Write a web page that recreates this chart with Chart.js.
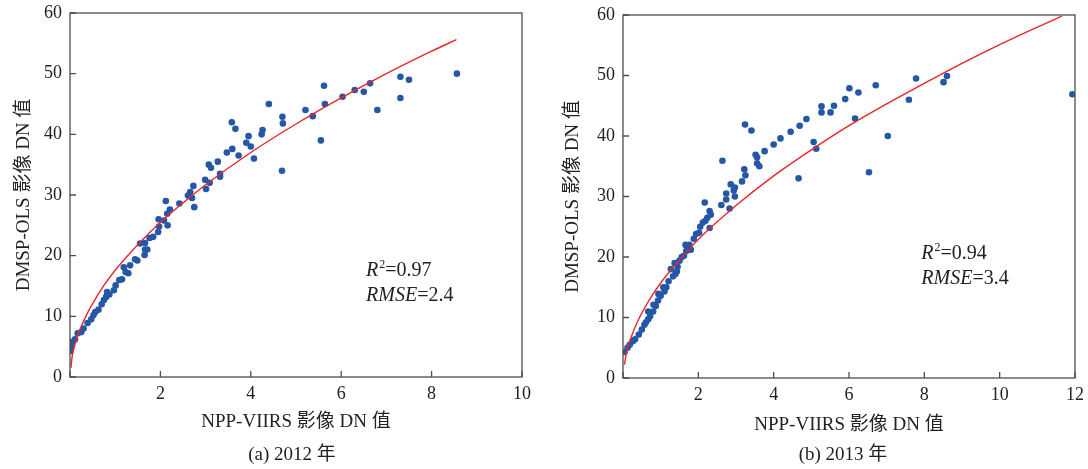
<!DOCTYPE html>
<html>
<head>
<meta charset="utf-8">
<script src="https://cdn.jsdelivr.net/npm/chart.js@4.4.1/dist/chart.umd.min.js"></script>
<style>
  body { margin: 0; background: #fff; width: 1088px; height: 469px; position: relative; overflow: hidden; }
  canvas { position: absolute; top: 0; }
  #chartA { left: 0; }
  #chartB { left: 544px; }
  .caption {
    position: absolute; top: 438px; width: 200px; text-align: center;
    font-family: "Liberation Serif", "Noto Sans CJK SC", serif; font-size: 19px; color: #222;
  }
</style>
</head>
<body>
<canvas id="chartA" width="544" height="440"></canvas>
<canvas id="chartB" width="544" height="440"></canvas>
<div class="caption" style="left:192px">(a) 2012 年</div>
<div class="caption" style="left:743px">(b) 2013 年</div>
<script>
// NPP-VIIRS vs DMSP-OLS DN values

// (a) 2012
const viirs2012 = [8.56, 7.31, 7.50, 7.31, 6.64, 6.50, 6.30, 6.80, 6.03, 5.62, 5.64, 5.55, 5.21, 5.37,
  4.70, 4.71, 4.69, 4.40, 4.26, 4.24, 3.95, 3.90, 4.00, 4.07, 3.58, 3.66, 3.59, 3.47, 3.73, 3.27,
  3.07, 3.12, 3.32, 3.32, 2.99, 3.09, 3.01, 2.73, 2.66, 2.61, 2.70, 2.75, 2.42, 2.12, 2.21, 2.15,
  2.08, 2.16, 1.96, 1.97, 1.95, 1.84, 1.76, 1.55, 1.66, 1.71, 1.66, 1.65, 1.49, 1.44, 1.33, 1.19,
  1.23, 1.29, 1.15, 1.09, 1.01, 0.97, 0.87, 0.82, 0.80, 0.75, 0.70, 0.63, 0.56, 0.52, 0.47, 0.39,
  0.30, 0.25, 0.17, 0.11, 0.06, 0.03, 0.01];
const dmsp2012 = [50.0, 49.5, 49.0, 46.0, 48.4, 47.0, 47.3, 44.0, 46.2, 48.0, 45.0, 39.0, 44.0, 43.0,
  42.9, 41.8, 34.0, 45.0, 40.7, 40.0, 39.7, 38.6, 38.0, 36.0, 42.0, 40.9, 37.6, 37.0, 36.5, 35.5,
  35.0, 34.5, 33.5, 33.0, 32.5, 32.0, 31.0, 31.5, 30.5, 29.9, 29.5, 28.0, 28.6, 29.0, 27.6, 26.9,
  25.8, 25.0, 26.0, 24.8, 23.9, 23.1, 22.9, 22.0, 22.1, 21.0, 21.0, 20.1, 19.2, 19.4, 18.4, 18.1,
  17.3, 17.1, 16.1, 16.0, 15.1, 14.3, 13.6, 14.0, 13.2, 12.7, 12.0, 11.1, 10.7, 10.2, 9.5, 8.9,
  8.0, 7.4, 7.2, 6.2, 5.8, 5.0, 4.3];
const fitX2012 = [0.02, 0.05, 0.1, 0.2, 0.35, 0.5, 0.75, 1, 1.5, 2, 2.5, 3, 4, 5, 6, 7, 8, 8.55];
const fitY2012 = [1.5, 3.5, 5.1, 7.4, 10.0, 12.1, 15.1, 17.6, 21.8, 25.5, 28.7, 31.7, 37.0, 41.7, 46.0, 50.0, 53.7, 55.6];

// (b) 2013
const viirs2013 = [11.93, 8.60, 8.51, 7.78, 7.59, 7.03, 6.71, 6.53, 6.25, 6.01, 6.16, 5.90, 5.60, 5.51,
  5.27, 5.27, 5.06, 5.13, 4.87, 4.69, 4.66, 4.45, 4.18, 4.00, 3.76, 3.52, 3.56, 3.56, 3.62, 3.41,
  3.24, 2.64, 3.22, 3.25, 3.16, 2.86, 2.97, 2.94, 2.74, 2.97, 2.74, 2.61, 2.83, 2.17, 2.30, 2.33,
  2.24, 2.19, 2.12, 2.30, 2.05, 2.02, 1.94, 1.88, 1.76, 1.66, 1.80, 1.68, 1.62, 1.56, 1.50, 1.37,
  1.27, 1.45, 1.43, 1.39, 1.33, 1.21, 1.15, 1.07, 1.10, 1.00, 0.94, 0.93, 0.87, 0.81, 0.67, 0.80,
  0.72, 0.67, 0.61, 0.57, 0.50, 0.42, 0.32, 0.27, 0.18, 0.12, 0.04];
const dmsp2013 = [46.9, 49.9, 48.9, 49.5, 46.0, 40.0, 48.4, 34.0, 47.2, 47.9, 42.9, 46.1, 45.0, 43.9,
  44.9, 43.9, 39.0, 37.9, 42.8, 41.7, 33.0, 40.7, 39.6, 38.6, 37.5, 36.9, 36.5, 35.5, 35.0, 40.9,
  41.9, 35.9, 34.5, 33.5, 32.5, 32.0, 31.5, 31.0, 30.5, 30.0, 29.5, 28.6, 28.0, 29.0, 27.6, 27.0,
  26.5, 26.0, 25.7, 24.8, 25.0, 24.0, 23.8, 23.0, 22.0, 22.0, 21.2, 21.0, 20.2, 20.0, 19.4, 19.0,
  18.0, 18.4, 17.6, 17.2, 16.8, 16.0, 15.0, 15.0, 14.3, 13.6, 13.9, 12.8, 11.9, 12.1, 11.0, 11.0,
  10.2, 9.7, 9.2, 8.8, 8.0, 7.2, 6.4, 6.1, 5.5, 5.0, 4.3];
const fitX2013 = [0.04, 0.1, 0.2, 0.4, 0.7, 1, 1.5, 2, 3, 4, 5, 6, 7, 8, 9, 10, 11, 11.65];
const fitY2013 = [2.2, 4.5, 6.5, 9.5, 12.9, 15.7, 19.5, 22.9, 28.5, 33.4, 37.7, 41.7, 45.3, 48.7, 52.0, 55.1, 58.0, 59.8];

const yTicks = [0, 10, 20, 30, 40, 50, 60];
const xTitle = 'NPP-VIIRS 影像 DN 值';
const yTitle = 'DMSP-OLS 影像 DN 值';

const FONT = '"Liberation Serif", "Noto Sans CJK SC", serif';
const INK = '#222';

// frame, inward tick marks and the R²/RMSE note
const framePlugin = {
  id: 'frame',
  afterDraw(chart, args, opts) {
    const { ctx, chartArea: a, scales } = chart;
    ctx.save();
    ctx.strokeStyle = '#4d4d4d';
    ctx.lineWidth = 1.3;
    ctx.strokeRect(a.left, a.top, a.right - a.left, a.bottom - a.top);
    ctx.beginPath();
    scales.x.ticks.forEach(t => {
      const px = scales.x.getPixelForValue(t.value);
      ctx.moveTo(px, a.bottom);
      ctx.lineTo(px, a.bottom - 6);
    });
    scales.y.ticks.forEach(t => {
      const py = scales.y.getPixelForValue(t.value);
      ctx.moveTo(a.left, py);
      ctx.lineTo(a.left + 6, py);
    });
    ctx.stroke();

    // stats note
    const x0 = scales.x.getPixelForValue(opts.at[0]);
    const y1 = scales.y.getPixelForValue(opts.at[1]);
    const y2 = y1 + 25;
    ctx.fillStyle = INK;
    ctx.textBaseline = 'alphabetic';
    let x = x0;
    ctx.font = 'italic 20px ' + FONT;
    ctx.fillText('R', x, y1); x += ctx.measureText('R').width + 1;
    ctx.font = '12px ' + FONT;
    ctx.fillText('2', x, y1 - 8); x += ctx.measureText('2').width;
    ctx.font = '20px ' + FONT;
    ctx.fillText('=' + opts.r2, x, y1);
    x = x0;
    ctx.font = 'italic 20px ' + FONT;
    ctx.fillText('RMSE', x, y2); x += ctx.measureText('RMSE').width;
    ctx.font = '20px ' + FONT;
    ctx.fillText('=' + opts.rmse, x, y2);
    ctx.restore();
  }
};

function makeChart(id, xs, ys, fx, fy, xMax, area, note) {
  const pts = xs.map((v, i) => ({ x: v, y: ys[i] }));
  const fit = fx.map((v, i) => ({ x: v, y: fy[i] }));
  const H = 440;
  return new Chart(document.getElementById(id), {
    type: 'scatter',
    data: {
      datasets: [
        {
          type: 'line',
          data: fit,
          borderColor: '#e8262a',
          borderWidth: 1.4,
          pointRadius: 0,
          fill: false,
          cubicInterpolationMode: 'monotone',
          order: 0
        },
        {
          data: pts,
          backgroundColor: '#2557a7',
          borderWidth: 0,
          pointRadius: 3.3,
          order: 1
        }
      ]
    },
    options: {
      responsive: false,
      animation: false,
      devicePixelRatio: 1,
      layout: { padding: { top: area.top, right: area.right, left: 0, bottom: 0 } },
      plugins: {
        legend: { display: false },
        tooltip: { enabled: false },
        frame: note
      },
      scales: {
        x: {
          type: 'linear',
          min: 0,
          max: xMax,
          grid: { display: false, drawTicks: false },
          border: { display: false },
          ticks: {
            stepSize: 2,
            padding: 6,
            color: INK,
            font: { family: FONT, size: 18 },
            callback: v => (v === 0 ? '' : v)
          },
          title: {
            display: true,
            text: xTitle,
            color: INK,
            font: { family: FONT, size: 19 },
            padding: { top: 0, bottom: area.xTitleBottom }
          },
          afterFit: s => {
            s.height = H - area.bottom;
            s.paddingLeft = 0;
            s.paddingRight = 0;
          }
        },
        y: {
          min: 0,
          max: 60,
          grid: { display: false, drawTicks: false },
          border: { display: false },
          afterBuildTicks: s => { s.ticks = yTicks.map(v => ({ value: v })); },
          ticks: {
            padding: 8,
            color: INK,
            font: { family: FONT, size: 18 }
          },
          title: {
            display: true,
            text: yTitle,
            color: INK,
            font: { family: FONT, size: 19 },
            padding: { top: area.yTitleLeft, bottom: 0 }
          },
          afterFit: s => {
            s.width = area.left;
            s.paddingTop = 0;
            s.paddingBottom = 0;
          }
        }
      }
    },
    plugins: [framePlugin]
  });
}

makeChart('chartA', viirs2012, dmsp2012, fitX2012, fitY2012, 10,
  { left: 70, right: 22, top: 13, bottom: 377, xTitleBottom: 7, yTitleLeft: 13 },
  { at: [6.55, 16.6], r2: '0.97', rmse: '2.4' });

makeChart('chartB', viirs2013, dmsp2013, fitX2013, fitY2013, 12,
  { left: 79, right: 13, top: 15, bottom: 378, xTitleBottom: 4, yTitleLeft: 18 },
  { at: [7.92, 19.6], r2: '0.94', rmse: '3.4' });
</script>
</body>
</html>
